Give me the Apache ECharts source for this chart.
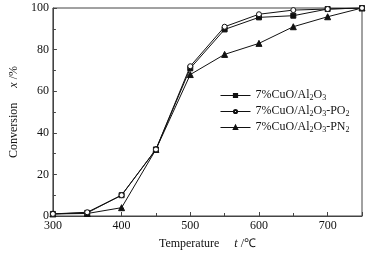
<!DOCTYPE html>
<html><head><meta charset="utf-8">
<script src="https://cdn.jsdelivr.net/npm/echarts@6/dist/echarts.min.js"></script>
<style>html,body{margin:0;padding:0;background:#fff}#c{width:374px;height:256px}</style>
</head><body><div id="c"></div>
<script>
var temperatures = [300, 350, 400, 450, 500, 550, 600, 650, 700, 750];
var cuoAl2O3 = [1, 1.5, 10, 32, 71, 89.7, 95.5, 96.3, 99.5, 100];
var cuoAl2O3PO2 = [1, 1.8, 10, 32, 72, 91, 97, 99, 99.5, 100];
var cuoAl2O3PN2 = [1, 1.2, 4, 32, 68, 77.7, 83, 91, 95.8, 100];
var seriesNames = ['7%CuO/Al2O3', '7%CuO/Al2O3-PO2', '7%CuO/Al2O3-PN2'];
var legendLabels = {
  '7%CuO/Al2O3': '{n|7%CuO/Al}{s|2}{n|O}{s|3}',
  '7%CuO/Al2O3-PO2': '{n|7%CuO/Al}{s|2}{n|O}{s|3}{n|-PO}{s|2}',
  '7%CuO/Al2O3-PN2': '{n|7%CuO/Al}{s|2}{n|O}{s|3}{n|-PN}{s|2}'
};
var font = 'Liberation Serif';
function pairs(arr){ return temperatures.map(function(t,i){return [t, arr[i]];}); }
var chart = echarts.init(document.getElementById('c'), null, {renderer:'canvas'});
var axisCol = '#444';
function mk(name, data, symbol, fill){
  return {name:name, type:'line', data:pairs(data), symbol:symbol, symbolSize: symbol==='triangle'?6:5,
    lineStyle:{color:'#111', width:1}, itemStyle:{color:fill, borderColor:'#111', borderWidth:1},
    emphasis:{disabled:true}, z: symbol==='circle'?3:2};
}
chart.setOption({
  animation:false,
  grid:{left:45, right:12, top:8, bottom:40, show:true, borderColor:axisCol, borderWidth:1},
  legend:{
    left:215, top:83, orient:'vertical', itemGap:2, itemWidth:30, itemHeight:4,
    data: seriesNames,
    lineStyle:{width:1},
    formatter:function(n){return legendLabels[n];},
    textStyle:{fontFamily:font, fontSize:12, color:'#111',
      rich:{n:{fontFamily:font, fontSize:12, color:'#111', lineHeight:13, verticalAlign:'top'},
            s:{fontFamily:font, fontSize:8, color:'#111', lineHeight:8, verticalAlign:'bottom', padding:[6,0,0,0]}}}
  },
  xAxis:{type:'value', min:300, max:750, interval:100,
    name:'{a|Temperature     }{b|t}{a| /℃}', nameLocation:'middle', nameGap:22,
    nameTextStyle:{rich:{a:{fontFamily:font, fontSize:12, color:'#111'}, b:{fontFamily:font, fontSize:12, fontStyle:'italic', color:'#111'}}},
    axisLine:{lineStyle:{color:axisCol}}, axisTick:{inside:true, length:4, lineStyle:{color:axisCol}},
    minorTick:{show:true, splitNumber:2, length:3, lineStyle:{color:axisCol}},
    splitLine:{show:false},
    axisLabel:{fontFamily:font, fontSize:12, color:'#111', margin:4, showMaxLabel:false}
  },
  yAxis:{type:'value', min:0, max:100, interval:20,
    name:'{a|Conversion     }{b|x}{a| /%}', nameLocation:'middle', nameGap:27,
    nameTextStyle:{rich:{a:{fontFamily:font, fontSize:12, color:'#111'}, b:{fontFamily:font, fontSize:12, fontStyle:'italic', color:'#111'}}},
    axisLine:{lineStyle:{color:axisCol}}, axisTick:{inside:true, length:4, lineStyle:{color:axisCol}},
    minorTick:{show:true, splitNumber:2, length:3, lineStyle:{color:axisCol}},
    splitLine:{show:false},
    axisLabel:{fontFamily:font, fontSize:12, color:'#111', margin:4}
  },
  series:[
    mk(seriesNames[0], cuoAl2O3, 'rect', '#111'),
    mk(seriesNames[1], cuoAl2O3PO2, 'circle', '#fff'),
    mk(seriesNames[2], cuoAl2O3PN2, 'triangle', '#111')
  ]
});
</script></body></html>
